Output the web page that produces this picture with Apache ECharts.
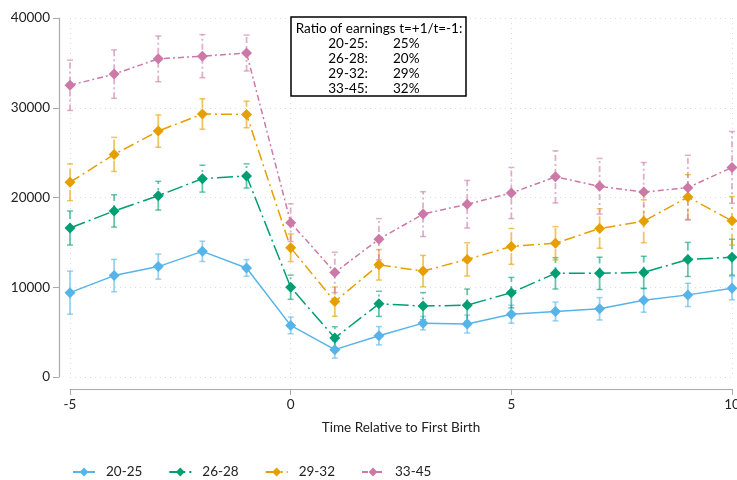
<!DOCTYPE html>
<html>
<head>
<meta charset="utf-8">
<script src="https://cdn.jsdelivr.net/npm/echarts@6/dist/echarts.min.js"></script>
<style>
  html, body { margin: 0; padding: 0; background: #fff; }
  #chart { width: 737px; height: 480px; }
</style>
</head>
<body>
<div id="chart"></div>
<script>
// time relative to first birth
const years = [-5, -4, -3, -2, -1, 0, 1, 2, 3, 4, 5, 6, 7, 8, 9, 10];

const groups = ["20-25", "26-28", "29-32", "33-45"];
const colors = ["#56B4E9", "#009E73", "#E69F00", "#CC79A7"];

// mean earnings by age group at first birth
const earn2025 = [9400, 11300, 12300, 14000, 12150, 5750, 3050, 4600, 6000, 5900, 7000, 7300, 7600, 8550, 9150, 9900];
const earn2628 = [16600, 18500, 20200, 22100, 22400, 10000, 4350, 8150, 7900, 8000, 9400, 11550, 11550, 11650, 13100, 13350];
const earn2932 = [21700, 24800, 27400, 29300, 29250, 14400, 8400, 12500, 11800, 13100, 14550, 14900, 16550, 17350, 20050, 17400];
const earn3345 = [32500, 33750, 35450, 35750, 36100, 17200, 11650, 15350, 18150, 19250, 20500, 22300, 21250, 20600, 21100, 23350];

// half width of the confidence bars
const ci2025 = [2400, 1800, 1400, 1130, 930, 930, 950, 1020, 750, 1000, 1000, 1050, 1250, 1330, 1300, 1300];
const ci2628 = [1900, 1800, 1600, 1500, 1350, 1350, 1250, 1400, 1500, 1800, 1700, 1750, 1800, 1800, 1900, 2000];
const ci2932 = [2050, 1900, 1800, 1700, 1480, 1540, 1630, 1700, 1750, 1850, 2000, 1850, 2200, 2400, 2500, 2700];
const ci3345 = [2800, 2700, 2550, 2400, 2000, 2100, 2250, 2300, 2500, 2650, 2850, 2900, 3100, 3300, 3600, 4000];

const yTicks = [0, 10000, 20000, 30000, 40000];

// text in the box
const boxTitle = "Ratio of earnings t=+1/t=-1:";
const boxRatios = ["25%", "20%", "29%", "32%"];

const means = [earn2025, earn2628, earn2932, earn3345];
const cis = [ci2025, ci2628, ci2932, ci3345];
const dashes = ["solid", [16, 4, 2, 4], [11, 4, 2, 4], [6, 3, 2, 3]];

const font = "Lato, 'Open Sans', sans-serif";

let myChart = echarts.init(document.getElementById("chart"));

const barSeries = groups.map((g, i) => ({
  name: g + " ci",
  type: "custom",
  z: 1,
  silent: true,
  data: years.map((x, k) => [x, means[i][k] - cis[i][k], means[i][k] + cis[i][k]]),
  renderItem: (params, api) => {
    const lo = api.coord([api.value(0), api.value(1)]);
    const hi = api.coord([api.value(0), api.value(2)]);
    const w = 3;
    const style = {
      stroke: colors[i],
      lineWidth: 1.8,
      opacity: 0.6,
      lineDash: dashes[i] === "solid" ? null : dashes[i],
    };
    return {
      type: "group",
      children: [
        { type: "line", shape: { x1: lo[0], y1: lo[1], x2: hi[0], y2: hi[1] }, style: style },
        { type: "line", shape: { x1: lo[0] - w, y1: lo[1], x2: lo[0] + w, y2: lo[1] }, style: { stroke: colors[i], lineWidth: 1.5, opacity: 0.6 } },
        { type: "line", shape: { x1: hi[0] - w, y1: hi[1], x2: hi[0] + w, y2: hi[1] }, style: { stroke: colors[i], lineWidth: 1.5, opacity: 0.6 } },
      ],
    };
  },
}));

const lineSeries = groups.map((g, i) => ({
  name: g,
  type: "line",
  z: 3,
  data: years.map((x, k) => [x, means[i][k]]),
  symbol: "diamond",
  symbolSize: 11,
  showAllSymbol: true,
  itemStyle: { color: colors[i] },
  lineStyle: { color: colors[i], width: 1.5, type: dashes[i] },
}));

const boxTexts = groups.map((g, i) => [
  { type: "text", x: 368, y: 44 + i * 15, style: { text: g + ":", fill: "#000", font: "13.5px " + font, textAlign: "right", textVerticalAlign: "middle" } },
  { type: "text", x: 393, y: 44 + i * 15, style: { text: boxRatios[i], fill: "#000", font: "13.5px " + font, textAlign: "left", textVerticalAlign: "middle" } },
]).flat();

myChart.setOption({
  animation: false,
  backgroundColor: "#fff",
  textStyle: { fontFamily: font },
  grid: { left: 70, right: 5, top: 18, bottom: 103, outerBoundsMode: "none", containLabel: false },
  xAxis: {
    type: "value",
    min: -5,
    max: 10,
    interval: 5,
    offset: 12,
    name: "Time Relative to First Birth",
    nameLocation: "middle",
    nameGap: 32,
    nameTextStyle: { fontSize: 13.5, color: "#222" },
    axisLine: { onZero: false, lineStyle: { color: "#aaa", width: 1.2 } },
    axisTick: { length: 6, lineStyle: { color: "#aaa" } },
    axisLabel: { fontSize: 13.5, color: "#222", margin: 9 },
    splitLine: { show: true, lineStyle: { color: "#ddd", type: [1, 4] } },
  },
  yAxis: {
    type: "value",
    min: yTicks[0],
    max: yTicks[yTicks.length - 1],
    interval: 10000,
    offset: 11,
    axisLine: { show: true, onZero: false, lineStyle: { color: "#aaa", width: 1.2 } },
    axisTick: { show: true, length: 6, lineStyle: { color: "#aaa" } },
    axisLabel: { fontSize: 13.5, color: "#222", margin: 9, formatter: (v) => String(v) },
    splitLine: { show: true, lineStyle: { color: "#ddd", type: [1, 4] } },
  },
  legend: {
    data: groups,
    left: 67,
    top: 460,
    itemWidth: 22,
    itemHeight: 11,
    itemGap: 26,
    textStyle: { fontSize: 13.5, color: "#222", padding: [0, 0, 0, 6] },
  },
  graphic: [
    {
      type: "rect",
      z: 10,
      shape: { x: 291, y: 17, width: 175, height: 79 },
      style: { fill: "#fff", stroke: "#000", lineWidth: 1.5 },
    },
    {
      type: "text",
      z: 11,
      x: 379,
      y: 29,
      style: { text: boxTitle, fill: "#000", font: "13.5px " + font, textAlign: "center", textVerticalAlign: "middle" },
    },
    ...boxTexts.map((t) => Object.assign(t, { z: 11 })),
  ],
  series: [...barSeries, ...lineSeries],
});
</script>
</body>
</html>
